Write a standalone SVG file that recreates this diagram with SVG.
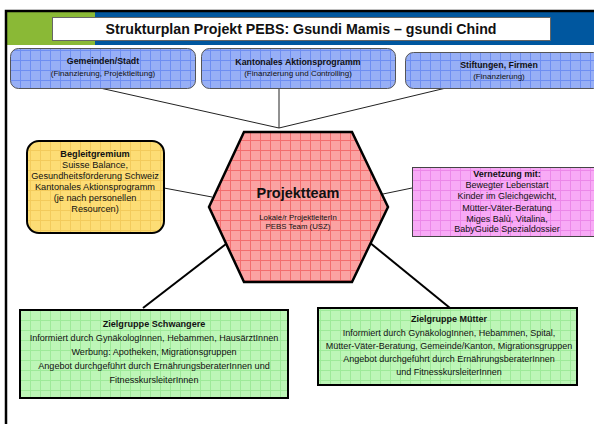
<svg xmlns="http://www.w3.org/2000/svg" width="594" height="424" viewBox="0 0 594 424">
<style>
text{font-family:"Liberation Sans",Arial,sans-serif;fill:#111;text-anchor:middle}
.b{font-weight:bold}
.conn{stroke:#222;stroke-width:1;fill:none}
.thick{stroke:#000;stroke-width:2;fill:none}
</style>
<defs>
<pattern id="pBlue" width="10" height="10" patternUnits="userSpaceOnUse">
<rect width="10" height="10" fill="#97aff6"/><path d="M0 0.5H10M0.5 0V10" stroke="#6e8ef2" stroke-width="1"/>
</pattern>
<pattern id="pYel" width="10" height="10" patternUnits="userSpaceOnUse">
<rect width="10" height="10" fill="#fddd75"/><path d="M0 0.5H10M0.5 0V10" stroke="#f3cb5c" stroke-width="1"/>
</pattern>
<pattern id="pRed" width="10" height="10" patternUnits="userSpaceOnUse">
<rect width="10" height="10" fill="#fba2a2"/><path d="M0 0.5H10M0.5 0V10" stroke="#f36d6e" stroke-width="1"/>
</pattern>
<pattern id="pMag" width="10" height="10" patternUnits="userSpaceOnUse">
<rect width="10" height="10" fill="#f8aaf6"/><path d="M0 0.5H10M0.5 0V10" stroke="#ec88e9" stroke-width="1"/>
</pattern>
<pattern id="pGrn" width="10" height="10" patternUnits="userSpaceOnUse">
<rect width="10" height="10" fill="#bdf6b7"/><path d="M0 0.5H10M0.5 0V10" stroke="#9eea99" stroke-width="1"/>
</pattern>
</defs>
<rect width="594" height="424" fill="#fff"/>
<g id="header">
<rect x="7" y="12" width="88" height="33" fill="#8ab936"/>
<rect x="95" y="12" width="499" height="33" fill="#00579f"/>
<path d="M6 424V11H594" stroke="#000" stroke-width="2.5" fill="none"/>
<rect x="52.5" y="17.5" width="498" height="23" fill="#fff" stroke="#666" stroke-width="1"/>
<text class="b" x="301" y="33.5" font-size="14.2">Strukturplan Projekt PEBS: Gsundi Mamis – gsundi Chind</text>
</g>
<g id="connectors">
<path class="conn" d="M100 88L279 128M279 88V128M446 88L279 128"/>
<path class="conn" d="M164 188L212 197"/>
<path class="conn" d="M383 194L412 188"/>
<path class="thick" d="M226 244L143 308"/>
<path class="thick" d="M369 242L450 308"/>
</g>
<g id="gemeinden">
<rect x="10.5" y="48.5" width="185" height="40" rx="8" fill="url(#pBlue)" stroke="#555" stroke-width="1"/>
<text class="b" x="103" y="64" font-size="8.8">Gemeinden/Stadt</text>
<text x="103" y="76" font-size="8">(Finanzierung, Projektleitung)</text>
</g>
<g id="kantonal">
<rect x="201.5" y="48.5" width="194" height="40" rx="8" fill="url(#pBlue)" stroke="#555" stroke-width="1"/>
<text class="b" x="298" y="64.5" font-size="8.8">Kantonales Aktionsprogramm</text>
<text x="298" y="75.5" font-size="8">(Finanzierung und Controlling)</text>
</g>
<g id="stiftungen">
<rect x="405.5" y="52.5" width="196" height="36" rx="8" fill="url(#pBlue)" stroke="#555" stroke-width="1"/>
<text class="b" x="499" y="68" font-size="8.8">Stiftungen, Firmen</text>
<text x="499" y="78.5" font-size="8">(Finanzierung)</text>
</g>
<g id="begleitgremium">
<rect x="27" y="141" width="137" height="92" rx="12" fill="url(#pYel)" stroke="#000" stroke-width="2"/>
<text x="95" y="157" font-size="9.2"><tspan class="b">Begleitgremium</tspan><tspan x="95" dy="11">Suisse Balance,</tspan><tspan x="95" dy="11">Gesundheitsförderung Schweiz</tspan><tspan x="95" dy="11">Kantonales Aktionsprogramm</tspan><tspan x="95" dy="11">(je nach personellen</tspan><tspan x="95" dy="11">Resourcen)</tspan></text>
</g>
<g id="projektteam">
<polygon points="244,132 352,132 388,207 352,282 244,282 209,207" fill="url(#pRed)" stroke="#000" stroke-width="2.5" stroke-linejoin="miter"/>
<text class="b" x="298" y="198" font-size="14.5">Projektteam</text>
<text x="298" y="220" font-size="7.8">Lokale/r ProjektleiterIn</text>
<text x="298" y="229" font-size="7.8">PEBS Team (USZ)</text>
</g>
<g id="vernetzung">
<rect x="412.5" y="167.5" width="190" height="69" fill="url(#pMag)" stroke="#444" stroke-width="1"/>
<text x="507" y="177" font-size="9"><tspan class="b">Vernetzung mit:</tspan><tspan x="507" dy="11">Bewegter Lebenstart</tspan><tspan x="507" dy="11">Kinder im Gleichgewicht,</tspan><tspan x="507" dy="11.5">Mütter-Väter-Beratung</tspan><tspan x="507" dy="11">Miges Balù, Vitalina,</tspan><tspan x="507" dy="10">BabyGuide Spezialdossier</tspan></text>
</g>
<g id="schwangere">
<rect x="20" y="310" width="268" height="88" fill="url(#pGrn)" stroke="#000" stroke-width="2"/>
<text x="154" y="327" font-size="9.1"><tspan class="b">Zielgruppe Schwangere</tspan><tspan x="154" dy="14">Informiert durch GynäkologInnen, Hebammen, HausärztInnen</tspan><tspan x="154" dy="13.5">Werbung: Apotheken, Migrationsgruppen</tspan><tspan x="154" dy="14">Angebot durchgeführt durch ErnährungsberaterInnen und</tspan><tspan x="154" dy="14">FitnesskursleiterInnen</tspan></text>
</g>
<g id="muetter">
<rect x="318" y="308" width="259" height="77" fill="url(#pGrn)" stroke="#000" stroke-width="2"/>
<text x="449" y="322" font-size="9"><tspan class="b">Zielgruppe Mütter</tspan><tspan x="449" dy="13.5">Informiert durch GynäkologInnen, Hebammen, Spital,</tspan><tspan x="449" dy="13">Mütter-Väter-Beratung, Gemeinde/Kanton, Migrationsgruppen</tspan><tspan x="449" dy="13">Angebot durchgeführt durch ErnährungsberaterInnen</tspan><tspan x="449" dy="13">und FitnesskursleiterInnen</tspan></text>
</g>
</svg>
